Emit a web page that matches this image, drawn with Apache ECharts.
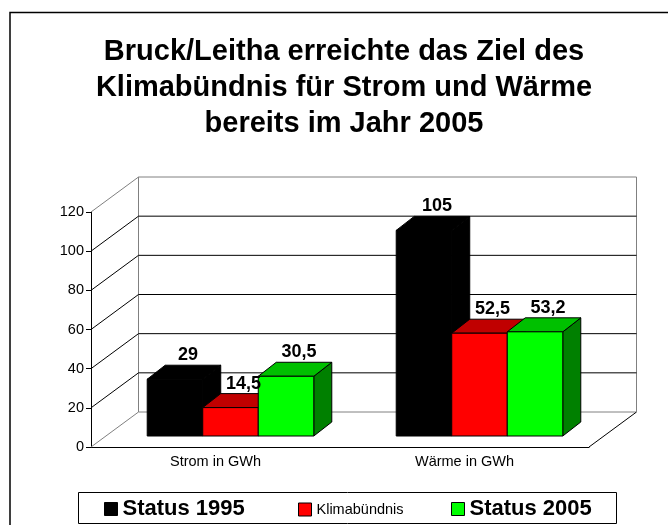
<!DOCTYPE html>
<html>
<head>
<meta charset="utf-8">
<title>Klimabündnis Bruck/Leitha</title>
<script src="https://cdn.jsdelivr.net/npm/echarts@6/dist/echarts.min.js"></script>
<style>html,body{margin:0;padding:0;background:#fff}</style>
</head>
<body>
<div id="main" style="width:668px;height:525px"></div>
<script type="text/javascript">
var categories = ['Strom in GWh', 'Wärme in GWh'];
var status1995 = [29, 105];
var klimabuendnis = [14.5, 52.5];
var status2005 = [30.5, 53.2];
var yTicks = [0, 20, 40, 60, 80, 100, 120];
var seriesNames = ['Status 1995', 'Klimabündnis', 'Status 2005'];
var titleText = 'Bruck/Leitha erreichte das Ziel des\nKlimabündnis für Strom und Wärme\nbereits im Jahr 2005';

var FONT = "'Liberation Sans', Arial, sans-serif";
// Tiefe der Rueckwand / der Saeulen in Pixel
var WALL = [47.5, -35];
var BAR_FRONT = [15, -11];
var BAR_DEPTH = [18, -14];
var BAR_W = 0.223; // Anteil der Kategoriebreite je Saeule

var faceColors = [
  { front: '#000000', top: '#000000', side: '#000000' },
  { front: '#ff0000', top: '#c00000', side: '#800000' },
  { front: '#00ff00', top: '#00c000', side: '#008000' }
];

function fmt(v) { return String(v).replace('.', ','); }

function poly(points, fill) {
  return { type: 'polygon', shape: { points: points }, style: { fill: fill, stroke: '#000', lineWidth: 1 } };
}

function line(x1, y1, x2, y2, col) {
  return { type: 'line', shape: { x1: x1, y1: y1, x2: x2, y2: y2 }, style: { stroke: col, lineWidth: 1 } };
}

function barRenderer(k) {
  return function (params, api) {
    var cat = api.value(0), v = api.value(1);
    var band = api.size([1, 0])[0];
    var bw = band * BAR_W;
    var base = api.coord([cat, 0]);
    var topP = api.coord([cat, v]);
    var x = base[0] - 1.5 * bw + k * bw + BAR_FRONT[0];
    var yb = base[1] + BAR_FRONT[1];
    var yt = topP[1] + BAR_FRONT[1];
    var dx = BAR_DEPTH[0], dy = BAR_DEPTH[1];
    var c = faceColors[k];
    return {
      type: 'group',
      children: [
        poly([[x + bw, yb], [x + bw + dx, yb + dy], [x + bw + dx, yt + dy], [x + bw, yt]], c.side),
        poly([[x, yt], [x + bw, yt], [x + bw + dx, yt + dy], [x + dx, yt + dy]], c.top),
        poly([[x, yb], [x + bw, yb], [x + bw, yt], [x, yt]], c.front),
        {
          type: 'text', x: x + bw / 2 + 13, y: yt + dy - 1, z2: 100,
          style: { text: fmt(v), textAlign: 'center', textVerticalAlign: 'bottom', font: 'bold 18px ' + FONT, fill: '#000' }
        }
      ]
    };
  };
}

function wallRenderer(params, api) {
  var cs = params.coordSys;
  var v = api.value(1);
  var y = api.coord([0, v])[1];
  var x0 = cs.x, x1 = cs.x + cs.width;
  var vmax = yTicks[yTicks.length - 1];
  var col = (v === 0 || v === vmax) ? '#808080' : '#000';
  var children = [
    line(x0, y, x0 + WALL[0], y + WALL[1], col),
    line(x0 + WALL[0], y + WALL[1], x1 + WALL[0], y + WALL[1], col)
  ];
  if (v === 0) {
    var yTop = api.coord([0, vmax])[1] + WALL[1];
    children.push(line(x1, y, x1 + WALL[0], y + WALL[1], '#000'));
    children.push(line(x0 + WALL[0], y + WALL[1], x0 + WALL[0], yTop, '#808080'));
    children.push(line(x1 + WALL[0], y + WALL[1], x1 + WALL[0], yTop, '#808080'));
  }
  return { type: 'group', children: children };
}

var values = [status1995, klimabuendnis, status2005];
var barSeries = values.map(function (arr, k) {
  return {
    name: seriesNames[k],
    type: 'custom',
    renderItem: barRenderer(k),
    itemStyle: { color: faceColors[k].front },
    encode: { x: 0, y: 1 },
    data: arr.map(function (v, i) { return [i, v]; }),
    clip: false,
    silent: true,
    z: 3
  };
});

var legendLeft = [104, 298, 451];
var legendTop = [498, 502, 498];
var legendFont = [
  { fontSize: 22, fontWeight: 'bold' },
  { fontSize: 14.5, fontWeight: 'normal' },
  { fontSize: 22, fontWeight: 'bold' }
];

var myChart = echarts.init(document.getElementById('main'));
var option = {
  backgroundColor: '#fff',
  animation: false,
  textStyle: { fontFamily: FONT },
  graphic: [
    { type: 'rect', shape: { x: 10, y: 12.5, width: 700, height: 600 }, style: { fill: 'none', stroke: '#000', lineWidth: 1.5 }, silent: true },
    { type: 'rect', shape: { x: 78.5, y: 492.5, width: 538, height: 31 }, style: { fill: 'none', stroke: '#000', lineWidth: 1 }, silent: true },
    {
      type: 'text', x: 344, y: 34,
      style: { text: titleText, textAlign: 'center', textVerticalAlign: 'top', font: 'bold 29px ' + FONT, lineHeight: 36, fill: '#000' }
    }
  ],
  legend: seriesNames.map(function (n, k) {
    return {
      data: [{ name: n, textStyle: legendFont[k] }],
      left: legendLeft[k],
      top: legendTop[k],
      padding: 0,
      icon: 'rect',
      itemWidth: 13,
      itemHeight: 13,
      itemStyle: { borderColor: '#000', borderWidth: 1 },
      textStyle: { fontFamily: FONT, color: '#000' },
      selectedMode: false
    };
  }),
  grid: { left: 91, right: 79, top: 212, bottom: 78, containLabel: false },
  xAxis: {
    type: 'category',
    data: categories,
    axisLine: { lineStyle: { color: '#000', width: 1 } },
    axisTick: { length: 5, lineStyle: { color: '#000' } },
    axisLabel: { fontSize: 14.5, color: '#000', margin: 7, fontFamily: FONT }
  },
  yAxis: {
    type: 'value',
    min: 0,
    max: 120,
    interval: 20,
    axisLine: { show: true, lineStyle: { color: '#000', width: 1 } },
    axisTick: { show: true, length: 5, lineStyle: { color: '#000' } },
    axisLabel: { fontSize: 14.5, color: '#000', margin: 7, fontFamily: FONT },
    splitLine: { show: false }
  },
  series: [{
    name: 'wall',
    type: 'custom',
    renderItem: wallRenderer,
    encode: { x: 0, y: 1 },
    data: yTicks.map(function (t) { return [0, t]; }),
    clip: false,
    silent: true,
    z: 1
  }].concat(barSeries)
};
myChart.setOption(option);
</script>
</body>
</html>
